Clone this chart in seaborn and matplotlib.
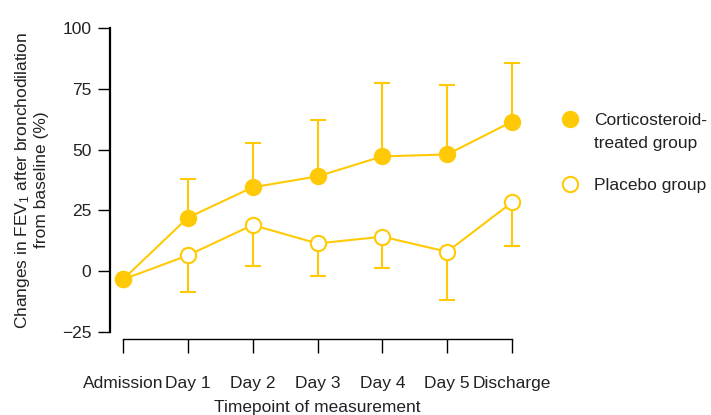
import matplotlib
matplotlib.use("Agg")
import matplotlib.pyplot as plt
from matplotlib.lines import Line2D
import numpy as np
import pandas as pd
import seaborn as sns

timepoints = ["Admission", "Day 1", "Day 2", "Day 3", "Day 4", "Day 5", "Discharge"]
steroid_mean = [-3.4, 22.0, 34.5, 39.0, 47.2, 48.0, 61.5]
steroid_upper = [-3.4, 37.9, 52.7, 62.3, 77.4, 76.7, 85.5]
placebo_mean = [-3.4, 6.5, 19.0, 11.4, 14.2, 8.0, 28.3]
placebo_lower = [-3.4, -8.6, 2.3, -2.0, 1.2, -12.0, 10.5]

YELLOW = "#FFCA05"
TEXT = "#222222"
MS = 11

sns.set_style("ticks")
plt.rcParams["font.family"] = ["Liberation Sans", "DejaVu Sans"]
plt.rcParams["mathtext.fontset"] = "custom"
plt.rcParams["mathtext.rm"] = "Liberation Sans"
plt.rcParams["mathtext.it"] = "Liberation Sans:italic"
plt.rcParams["text.color"] = TEXT
plt.rcParams["axes.labelcolor"] = TEXT

df = pd.DataFrame({
    "pos": np.arange(len(timepoints)),
    "steroid": steroid_mean,
    "steroid_hi": steroid_upper,
    "placebo": placebo_mean,
    "placebo_lo": placebo_lower,
})

fig = plt.figure(figsize=(7.11, 4.15), dpi=100)
ax = fig.add_axes([110 / 711, 83 / 415, 415 / 711, 304 / 415])

# one-sided error bars: up for steroid, down for placebo
ax.errorbar(df["pos"], df["placebo"],
            yerr=[df["placebo"] - df["placebo_lo"], np.zeros(len(df))],
            fmt="none", ecolor=YELLOW, elinewidth=1.5, capsize=5.5, capthick=1.5, zorder=1)
ax.errorbar(df["pos"], df["steroid"],
            yerr=[np.zeros(len(df)), df["steroid_hi"] - df["steroid"]],
            fmt="none", ecolor=YELLOW, elinewidth=1.5, capsize=5.5, capthick=1.5, zorder=1)

sns.lineplot(data=df, x="pos", y="placebo", ax=ax, color=YELLOW, linewidth=1.5,
             marker="o", markersize=MS, markerfacecolor="white",
             markeredgecolor=YELLOW, markeredgewidth=1.5, zorder=3, clip_on=False)
sns.lineplot(data=df, x="pos", y="steroid", ax=ax, color=YELLOW, linewidth=1.5,
             marker="o", markersize=MS, markerfacecolor=YELLOW,
             markeredgecolor=YELLOW, markeredgewidth=1.5, zorder=4, clip_on=False)

ax.set_xlim(-0.2, 6.2)
ax.set_ylim(-25, 100)
ax.set_xticks(df["pos"])
ax.set_xticklabels(timepoints)
ax.set_yticks([-25, 0, 25, 50, 75, 100])

sns.despine(ax=ax)
ax.spines["bottom"].set_position(("outward", 5))
ax.spines["bottom"].set_bounds(0, 6)
ax.spines["bottom"].set_linewidth(1.0)
ax.spines["left"].set_linewidth(1.6)
ax.spines["left"].set_color("black")
ax.spines["bottom"].set_color("black")

ax.tick_params(axis="x", length=10, width=1.0, pad=16.5, labelsize=12.5,
               color="black", labelcolor=TEXT)
ax.tick_params(axis="y", length=8.5, width=1.0, pad=5, labelsize=12.5,
               color="black", labelcolor=TEXT)

ax.set_xlabel("Timepoint of measurement", fontsize=12.5, labelpad=6.5)
ax.set_ylabel("Changes in FEV$_1$ after bronchodilation\nfrom baseline (%)",
              fontsize=12.5, labelpad=9, linespacing=1.15)

handles = [
    Line2D([], [], linestyle="none", marker="o", markersize=MS,
           markerfacecolor=YELLOW, markeredgecolor=YELLOW, markeredgewidth=1.5),
    Line2D([], [], linestyle="none", marker="o", markersize=MS,
           markerfacecolor="white", markeredgecolor=YELLOW, markeredgewidth=1.5),
]
leg = fig.legend(handles, ["Corticosteroid-", "Placebo group"],
                 loc="upper left", bbox_to_anchor=(561 / 711, 1 - 113 / 415),
                 frameon=False, fontsize=12.5, handlelength=1.0,
                 handletextpad=0.9, labelspacing=2.85, borderpad=0, borderaxespad=0)
first = leg.get_texts()[0]
note = plt.Annotation("treated group", xy=(0, 0), xycoords=first,
                      xytext=(0, -5.5), textcoords="offset points",
                      va="top", ha="left", fontsize=12.5, color=TEXT)
note.set_zorder(10)
fig.add_artist(note)

fig.savefig("out.png", dpi=100)
